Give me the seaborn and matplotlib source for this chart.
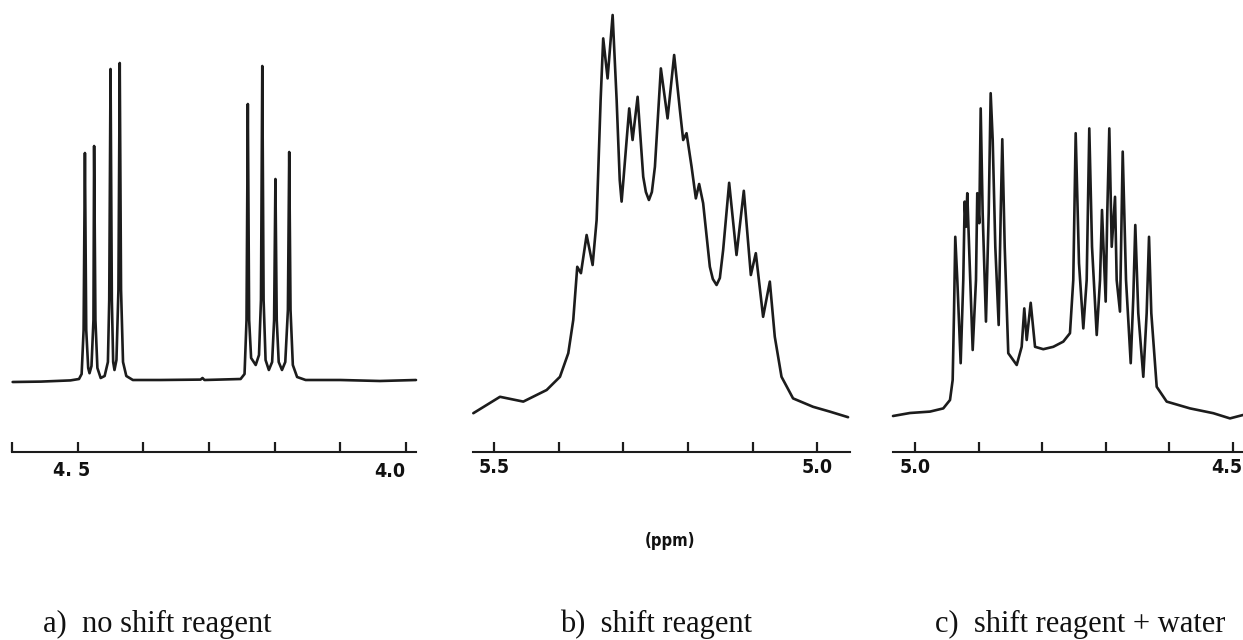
import matplotlib
matplotlib.use("Agg")
import matplotlib.pyplot as plt
import matplotlib.transforms as mtransforms
import seaborn as sns
import pandas as pd

# ---- spectrum a) no shift reagent : chemical shift (ppm) / relative intensity ----
ppm_a = [4.599, 4.556, 4.511, 4.498, 4.494, 4.491, 4.489, 4.487, 4.484, 4.482,
         4.479, 4.476, 4.475, 4.473, 4.470, 4.465, 4.459, 4.454, 4.452, 4.450,
         4.448, 4.446, 4.444, 4.441, 4.438, 4.436, 4.434, 4.431, 4.426, 4.416,
         4.374, 4.313, 4.310, 4.307, 4.252, 4.246, 4.243, 4.241, 4.239, 4.236,
         4.229, 4.224, 4.221, 4.219, 4.217, 4.214, 4.209, 4.204, 4.201, 4.199,
         4.197, 4.194, 4.189, 4.184, 4.180, 4.178, 4.176, 4.1725, 4.166, 4.153,
         4.100, 4.040, 3.985]
int_a = [17.5, 17.6, 17.9, 18.25, 19.5, 30.5, 74.75, 30.5, 21.0, 19.7,
         21.5, 33.0, 76.5, 33.0, 21.0, 18.5, 19.0, 22.5, 38.0, 95.75,
         38.0, 22.5, 20.5, 23.0, 40.5, 97.25, 40.5, 22.5, 19.0, 18.0,
         18.0, 18.1, 18.5, 18.0, 18.25, 19.5, 33.0, 87.0, 33.0, 23.5,
         21.75, 24.25, 38.0, 96.5, 38.0, 23.0, 20.5, 22.5, 33.0, 68.25,
         33.0, 22.5, 20.5, 22.5, 35.5, 75.0, 35.5, 21.75, 18.75, 18.0,
         18.0, 17.75, 18.0]

# ---- spectrum b) shift reagent ----
ppm_b = [5.5325, 5.4912, 5.4551, 5.4189, 5.3983, 5.3854, 5.3777, 5.3715, 5.3658, 5.3570,
         5.3477, 5.3415, 5.3353, 5.3313, 5.3245, 5.3167, 5.3105, 5.3057, 5.3028, 5.3000,
         5.2950, 5.2910, 5.2858, 5.2780, 5.2693, 5.2652, 5.2605, 5.2559, 5.2512, 5.2420,
         5.2316, 5.2214, 5.2125, 5.2074, 5.2022, 5.1944, 5.1878, 5.1827, 5.1765, 5.1661,
         5.1615, 5.1557, 5.1506, 5.1455, 5.1362, 5.1248, 5.1135, 5.1026, 5.0949, 5.0836,
         5.0732, 5.0655, 5.0551, 5.0372, 5.0062, 4.9803, 4.9520]
int_b = [9.7, 13.8, 12.6, 15.5, 18.8, 24.7, 33.0, 46.3, 44.7, 54.25,
         46.75, 58.0, 88.0, 103.4, 93.4, 109.25, 88.0, 68.0, 62.6, 68.0,
         78.0, 85.9, 78.0, 88.8, 68.8, 65.0, 63.0, 65.0, 71.3, 95.9,
         83.4, 99.25, 85.5, 78.0, 79.7, 71.3, 63.4, 67.0, 62.2, 46.3,
         43.25, 41.75, 43.5, 50.5, 67.3, 49.25, 65.3, 44.25, 49.7, 33.8,
         42.6, 28.8, 18.8, 13.4, 11.3, 10.1, 8.7]

# ---- spectrum c) shift reagent + water ----
ppm_c = [5.0346, 5.0079, 4.9764, 4.9555, 4.9449, 4.9407, 4.9386, 4.9366, 4.9334, 4.9281,
         4.9240, 4.9218, 4.9197, 4.9177, 4.9145, 4.9092, 4.9040, 4.9020, 4.8988, 4.8966,
         4.8935, 4.8883, 4.8840, 4.8809, 4.8777, 4.8736, 4.8683, 4.8651, 4.8626, 4.8588,
         4.8532, 4.8399, 4.8321, 4.8280, 4.8242, 4.8179, 4.8111, 4.7981, 4.7823, 4.7666,
         4.7561, 4.7509, 4.7471, 4.7419, 4.7351, 4.7298, 4.7257, 4.7214, 4.7140, 4.7088,
         4.7057, 4.6999, 4.6974, 4.6942, 4.6904, 4.6852, 4.6826, 4.6774, 4.6731, 4.6679,
         4.6605, 4.6564, 4.6533, 4.6486, 4.6407, 4.6354, 4.6317, 4.6281, 4.6196, 4.6039,
         4.5672, 4.5305, 4.5043, 4.4838]
int_c = [9.0, 9.75, 10.1, 10.9, 13.0, 18.0, 34.75, 53.8, 43.0, 22.2,
         43.0, 62.6, 56.3, 64.7, 49.7, 25.5, 43.0, 64.7, 57.2, 85.9,
         59.7, 32.6, 59.7, 89.7, 78.0, 51.3, 31.75, 59.7, 78.2, 51.3,
         24.7, 21.75, 26.3, 35.9, 28.0, 37.3, 26.3, 25.7, 26.3, 27.6,
         29.7, 43.0, 79.7, 47.2, 30.9, 43.0, 80.9, 51.3, 29.25, 43.0,
         60.5, 37.6, 59.7, 80.9, 51.3, 63.8, 43.0, 35.1, 75.1, 43.0,
         22.2, 38.8, 56.75, 34.7, 18.8, 34.7, 53.8, 34.7, 16.3, 12.6,
         10.9, 9.7, 8.4, 9.25]

# ---- scale bars ----
ticks_a = [4.6, 4.5, 4.4, 4.3, 4.2, 4.1, 4.0]
labels_a = ["", "4. 5", "", "", "", "", "4.0"]
ticks_b = [5.5, 5.4, 5.3, 5.2, 5.1, 5.0]
labels_b = ["5.5", "", "", "", "", "5.0"]
ticks_c = [5.0, 4.9, 4.8, 4.7, 4.6, 4.5]
labels_c = ["5.0", "", "", "", "", "4.5"]

captions = ["a)  no shift reagent", "b)  shift reagent", "c)  shift reagent + water"]
unit_label = "(ppm)"

sns.set_style("white")
plt.rcParams["font.family"] = ["DejaVu Sans"]

INK = "#1c1c1c"
W, H = 1243, 640
fig = plt.figure(figsize=(W / 100, H / 100), dpi=100)

panels = [
    dict(ppm=ppm_a, inten=int_a, ticks=ticks_a, labels=labels_a,
         xlim=(4.599, 3.985), px=(12, 416)),
    dict(ppm=ppm_b, inten=int_b, ticks=ticks_b, labels=labels_b,
         xlim=(5.533, 4.949), px=(473, 850)),
    dict(ppm=ppm_c, inten=int_c, ticks=ticks_c, labels=labels_c,
         xlim=(5.0346, 4.4838), px=(893, 1243)),
]

axis_y_px = 452
bottom = (H - axis_y_px) / H
height = 1.0 - bottom

tick_font = dict(family=["DejaVu Sans"], weight="bold", stretch="condensed",
                 size=14)

axes = []
for p in panels:
    x0, x1 = p["px"]
    ax = fig.add_axes([x0 / W, bottom, (x1 - x0) / W, height])
    df = pd.DataFrame({"ppm": p["ppm"], "intensity": p["inten"]})
    sns.lineplot(data=df, x="ppm", y="intensity", ax=ax, sort=False,
                 estimator=None, color=INK, linewidth=1.9)
    ax.set_xlim(*p["xlim"])
    ax.set_ylim(0, 113)
    for side in ("top", "left", "right"):
        ax.spines[side].set_visible(False)
    ax.spines["bottom"].set_color(INK)
    ax.spines["bottom"].set_linewidth(1.5)
    ax.set_yticks([])
    ax.set_xticks(p["ticks"])
    ax.set_xticklabels(p["labels"], fontdict=tick_font, color="#111111")
    ax.tick_params(axis="x", direction="in", length=7.5, width=1.6,
                   color=INK, pad=4, bottom=True)
    ax.set_xlabel("")
    ax.set_ylabel("")
    ax.set_facecolor("none")
    for line in ax.lines:
        line.set_clip_on(False)
    axes.append(ax)

# nudge the end labels of the scale bars
def shift(label, dx_px, dy_px=0):
    label.set_transform(label.get_transform() +
                        mtransforms.ScaledTranslation(dx_px / 100, dy_px / 100,
                                                      fig.dpi_scale_trans))

lab_a = axes[0].get_xticklabels()
shift(lab_a[1], -6, -3)
lab_a[6].set_horizontalalignment("right")
shift(lab_a[6], -1, -4)
lab_c = axes[2].get_xticklabels()
lab_c[5].set_horizontalalignment("right")
shift(lab_c[5], 10)

fig.text(670 / W, 1 - 541 / H, unit_label, ha="center", va="center",
         fontsize=12, fontweight="bold", fontstretch="condensed", color="#111111")

for xpx, cap in zip([43, 560, 935], captions):
    fig.text(xpx / W, 1 - 632 / H, cap, ha="left", va="baseline",
             fontsize=22, color="#111111", family=["Liberation Serif", "DejaVu Serif"])

fig.savefig("out.png", dpi=100, facecolor="white")
